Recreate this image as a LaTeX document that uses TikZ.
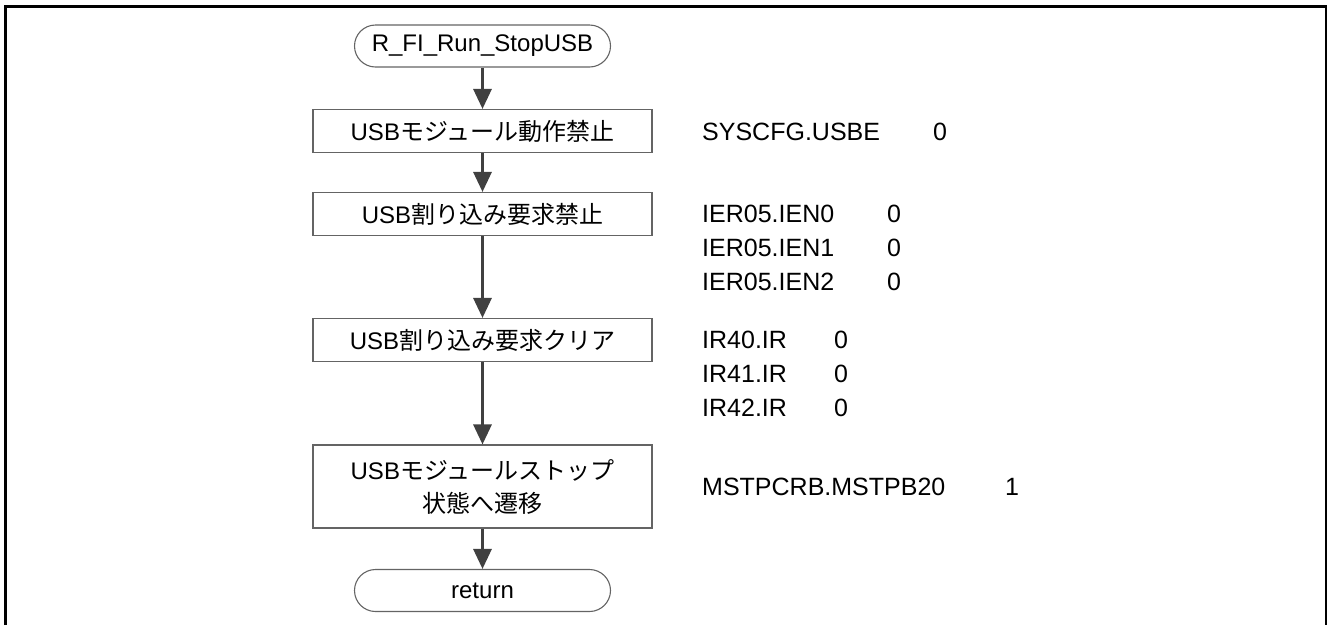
\documentclass[tikz,border=0pt]{standalone}
\usepackage{fontspec}
\setmainfont{Liberation Sans}
\newfontfamily\jp{Noto Sans CJK JP}
\usetikzlibrary{arrows.meta}
\definecolor{boxgray}{RGB}{100,100,100}
\definecolor{arrowgray}{RGB}{64,64,64}
\begin{document}
\begin{tikzpicture}[x=1pt,y=-1pt,
  every node/.style={font=\fontsize{24pt}{33pt}\selectfont, inner sep=0pt},
  proc/.style={draw=boxgray, line width=1.1pt, minimum width=339pt, minimum height=43pt, align=center},
  term/.style={draw=boxgray, line width=1.1pt, rounded corners=21pt, minimum width=256pt, minimum height=42pt},
  flow/.style={draw=arrowgray, line width=3pt, -{Triangle[width=18pt,length=20pt]}},
  reg/.style={anchor=west, font=\fontsize{25pt}{34pt}\selectfont},
]
\useasboundingbox (0,0) rectangle (1328,625);
\fill[white] (0,0) rectangle (1328,625);
\draw[line width=2.7pt] (5.7,625) -- (5.7,6.7) -- (1326,6.7) -- (1326,625);

\node[term] (start) at (482.5,46) {R\_FI\_Run\_StopUSB};
\node[proc] (p1) at (482.5,131) {USB{\jp モジュール動作禁止}};
\node[proc] (p2) at (482.5,214) {USB{\jp 割り込み要求禁止}};
\node[proc] (p3) at (482.5,340) {USB{\jp 割り込み要求クリア}};
\node[proc, minimum height=83pt] (p4) at (482.5,486.5) {USB{\jp モジュールストップ}\\{\jp 状態へ遷移}};
\node[term] (ret) at (482.5,590.5) {return};

\draw[flow] (start) -- (p1);
\draw[flow] (p1) -- (p2);
\draw[flow] (p2) -- (p3);
\draw[flow] (p3) -- (p4);
\draw[flow] (p4) -- (ret);

\node[reg] (r1) at (702,132) {SYSCFG.USBE};
\node[reg] (v1) at (933,132) {0};
\node[reg] (r2a) at (702,214) {IER05.IEN0};
\node[reg] (v2a) at (887,214) {0};
\node[reg] (r2b) at (702,248) {IER05.IEN1};
\node[reg] (v2b) at (887,248) {0};
\node[reg] (r2c) at (702,282) {IER05.IEN2};
\node[reg] (v2c) at (887,282) {0};
\node[reg] (r3a) at (702,340) {IR40.IR};
\node[reg] (v3a) at (834,340) {0};
\node[reg] (r3b) at (702,374) {IR41.IR};
\node[reg] (v3b) at (834,374) {0};
\node[reg] (r3c) at (702,408) {IR42.IR};
\node[reg] (v3c) at (834,408) {0};
\node[reg] (r4) at (702,487) {MSTPCRB.MSTPB20};
\node[reg] (v4) at (1005,487) {1};
\end{tikzpicture}
\end{document}
